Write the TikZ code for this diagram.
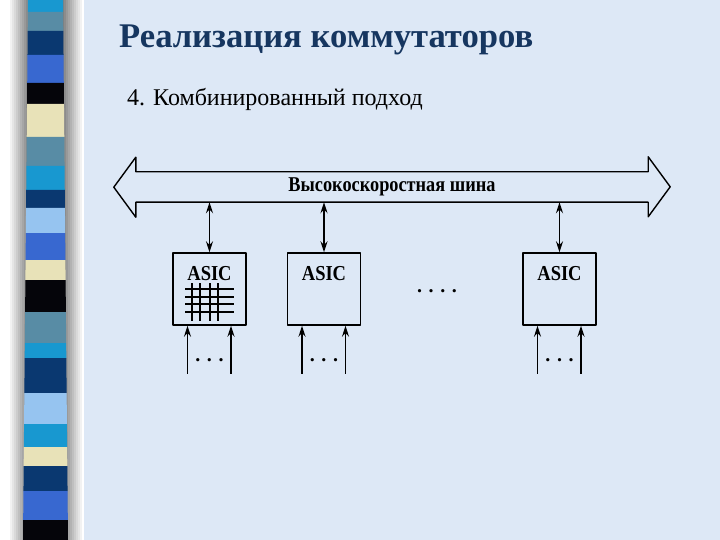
\documentclass[tikz,border=0pt]{standalone}
\usepackage{fontspec}
\usepackage{graphicx}
\setmainfont{Liberation Serif}
\usetikzlibrary{arrows.meta,positioning}

\definecolor{slidebg}{RGB}{221,232,246}
\definecolor{titlenavy}{RGB}{22,54,96}
\definecolor{stcyan}{RGB}{24,152,208}
\definecolor{ststeel}{RGB}{88,140,165}
\definecolor{stnavy}{RGB}{10,56,112}
\definecolor{stroyal}{RGB}{56,104,208}
\definecolor{stbeige}{RGB}{232,226,184}
\definecolor{stlight}{RGB}{150,196,240}
\definecolor{stblack}{RGB}{5,5,10}

\newcommand{\tallbox}[1]{\scalebox{1}[1.15]{#1}}

\tikzset{
  wire/.style={line width=1.6pt},
  busline/.style={line width=1.4pt},
  asicbox/.style={draw, line width=1.4pt, minimum width=73pt, minimum height=72pt, inner sep=0pt},
  asiclbl/.style={font=\fontsize{18.5}{21}\selectfont\bfseries, inner sep=0pt},
  buslbl/.style={font=\fontsize{18.3}{21}\selectfont\bfseries, inner sep=0pt},
  dotlbl/.style={font=\fontsize{20}{22}\selectfont\bfseries, inner sep=0pt},
  titlelbl/.style={font=\fontsize{34.6}{40}\selectfont\bfseries, text=titlenavy, inner sep=0pt},
  sublbl/.style={font=\fontsize{24}{28}\selectfont, inner sep=0pt}
}

\begin{document}
\begin{tikzpicture}[x=1pt, y=-1pt, >={Stealth[length=11pt,width=7pt]}, line join=round]
\useasboundingbox (0,0) rectangle (720,540);

    % ------------------------------------------------------------------
    % 1. Slide background and left stripe
    % ------------------------------------------------------------------
    \fill[white] (0,0) rectangle (84,540);
    \fill[slidebg] (84,0) rectangle (720,540);
    % shadow on both sides of the stripe
    \foreach \i in {0,...,10}
        \fill[black!\the\numexpr 5*\i\relax] ({8+2*\i},0) rectangle ({10.2+2*\i},540);
    \foreach \i in {0,...,10}
        \fill[black!\the\numexpr 50-5*\i\relax] ({62+2*\i},0) rectangle ({64.2+2*\i},540);
    \foreach \ya/\yb/\col in {0/12/stcyan, 12/31/ststeel, 31/55/stnavy, 55/83/stroyal,
        83/104/stblack, 104/137/stbeige, 137/166/ststeel, 166/190/stcyan, 190/208/stnavy,
        208/233/stlight, 233/260/stroyal, 260/280/stbeige, 280/312/stblack, 312/343/ststeel,
        343/358/stcyan, 358/393/stnavy, 393/424/stlight, 424/447/stcyan, 447/466/stbeige,
        466/491/stnavy, 491/520/stroyal, 520/540/stblack} {
        \fill[\col] ({28-5*\ya/540},\ya) -- ({63+5*\ya/540},\ya)
            -- ({63+5*\yb/540},\yb) -- ({28-5*\yb/540},\yb) -- cycle;
    }

    % ------------------------------------------------------------------
    % 2. Title and subtitle
    % ------------------------------------------------------------------
    \node[titlelbl, anchor=base west] (title) at (119,48) {Реализация коммутаторов};
    \node[sublbl, anchor=base west] (subtitle) at (127,106) {4. Комбинированный подход};

    % ------------------------------------------------------------------
    % 3. High-speed bus (double block arrow)
    % ------------------------------------------------------------------
    \node[buslbl, minimum width=512pt, minimum height=30pt] (bus) at (392,187)
        {\tallbox{Высокоскоростная шина}};
    \draw[busline] (bus.north west) -- (bus.north east) -- ++(0,-15) -- ++(22,30)
        -- ++(-22,30) -- (bus.south east) -- (bus.south west) -- ++(0,15)
        -- ++(-22,-30) -- ++(22,-30) -- cycle;

    % ------------------------------------------------------------------
    % 4. ASIC blocks
    % ------------------------------------------------------------------
    \node[asicbox] (a1) at (209.5,289) {};
    \node[asicbox] (a2) at (324,289) {};
    \node[asicbox] (a3) at (559.5,289) {};

    \foreach \b in {a1,a2,a3} {
        \node[asiclbl, below=14pt of \b.north] (\b lbl) {\tallbox{ASIC}};
        % link to the bus
        \draw[<->, wire] (bus.south -| \b.north) -- (\b.north);
        % input ports
        \coordinate (\b inL) at ([xshift=-22pt, yshift=-48pt]\b.south);
        \coordinate (\b inR) at ([xshift=21.5pt, yshift=-48pt]\b.south);
        \draw[->, wire] (\b inL) -- (\b inL |- \b.south);
        \draw[->, wire] (\b inR) -- (\b inR |- \b.south);
        \node[dotlbl] (\b dots) at ([yshift=-34pt]\b.south) {. . .};
    }

    % Crossbar inside the first ASIC
    \begin{scope}[shift={(a1.center)}]
        \foreach \dy in {0,8,15,23}
            \draw[line width=1.4pt] (-24.5,\dy) -- (24.5,\dy);
        \foreach \dx in {-17.5,-9.5,0.5,8.5}
            \draw[line width=1.1pt] (\dx,-6) -- (\dx,32);
    \end{scope}

    % Gap between the blocks
    \node[dotlbl] (gap) at (437,291) {. . . .};

\end{tikzpicture}
\end{document}
